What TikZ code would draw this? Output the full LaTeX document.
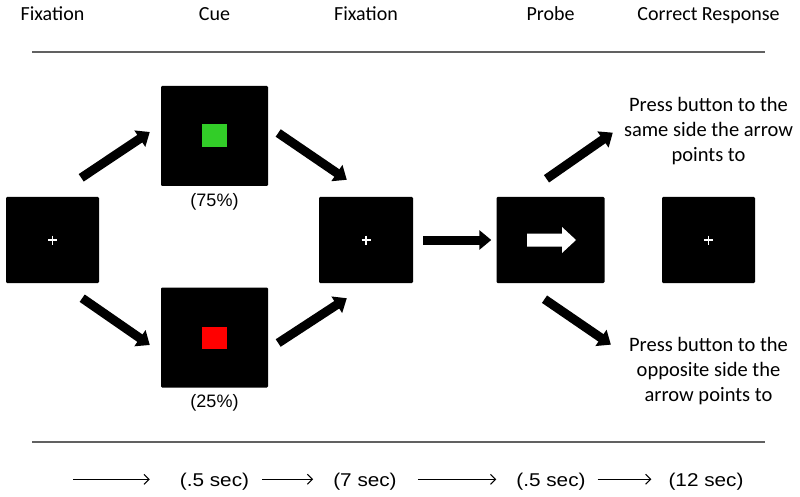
\documentclass[tikz,border=0pt]{standalone}
\usepackage{graphicx}
\usepackage{fontspec}
\setmainfont{Carlito}
\newfontfamily\arialf{Liberation Sans}
\usetikzlibrary{arrows.meta,calc}
\begin{document}
\begin{tikzpicture}[x=1pt,y=-1pt,
  scr/.style={fill=black, inner sep=0pt, rounded corners=1.2pt},
  bigarrow/.style={line width=9pt, -{Triangle[length=12pt,width=19pt]}},
  thinarrow/.style={line width=1.1pt, -{Straight Barb[length=5pt,width=10pt]}},
  hdr/.style={font=\fontsize{20}{24}\selectfont, inner sep=0pt, anchor=base},
  note/.style={font=\fontsize{20.5}{25}\selectfont, inner sep=0pt, anchor=base},
  pct/.style={font=\arialf\fontsize{18}{22}\selectfont, inner sep=0pt, anchor=base},
  dur/.style={font=\arialf\fontsize{18.5}{22}\selectfont, inner sep=0pt, anchor=base},
  hrule/.style={line width=2pt, draw=black!62},
  crossmark/.style={draw=white, line width=1.3pt}
]
\fill[white] (0,0) rectangle (800,497);
\useasboundingbox (0,0) rectangle (800,497);

% headers
\node[hdr] (h1) at (52.5,20.7) {Fixation};
\node[hdr] (h2) at (214.5,20.7) {Cue};
\node[hdr] (h3) at (366,20.7) {Fixation};
\node[hdr] (h4) at (550.5,20.7) {Probe};
\node[hdr] (h5) at (708.5,20.7) {Correct Response};

% rules
\coordinate (r1a) at (32,52);
\coordinate (r1b) at (765,52);
\coordinate (r2a) at (32,441.5);
\coordinate (r2b) at (765,441.5);
\draw[hrule] (r1a) -- (r1b);
\draw[hrule] (r2a) -- (r2b);

% screens
\node[scr, minimum width=93pt, minimum height=86pt] (fix1) at (52.5,240) {};
\node[scr, minimum width=107pt, minimum height=100pt] (cueT) at (214.5,136) {};
\node[scr, minimum width=107pt, minimum height=100pt] (cueB) at (214.5,337.5) {};
\node[scr, minimum width=94pt, minimum height=86pt] (fix2) at (366,240) {};
\node[scr, minimum width=108pt, minimum height=86pt] (probe) at (550.5,240) {};
\node[scr, minimum width=93pt, minimum height=86pt] (corr) at (708.5,240) {};

% fixation crosses
\foreach \n in {fix1,fix2,corr}{
  \draw[crossmark] (\n.center) ++(-4.5,0) -- ++(9,0);
  \draw[crossmark] (\n.center) ++(0,-4.5) -- ++(0,9);
}

% cue squares
\fill[fill={rgb,255:red,50;green,205;blue,40}] ($(cueT.center)+(-12.5,-11.5)$) rectangle ++(25,23);
\fill[red] ($(cueB.center)+(-12.5,-11)$) rectangle ++(25,22);

% probe arrow
\fill[white] ($(probe.center)+(-23.5,-6.5)$) -- ++(35,0) -- ++(0,-6.5) -- ++(14,13)
  -- ++(-14,13) -- ++(0,-6.5) -- ++(-35,0) -- cycle;

% percentages
\node[pct] (p75) at (214.5,207) {(75\%)};
\node[pct] (p25) at (214.5,407) {(25\%)};

% response texts
\node[note] (u1) at (708.5,111.7) {Press button to the};
\node[note] (u2) at (708.5,136.7) {same side the arrow};
\node[note] (u3) at (708.5,161.7) {points to};
\node[note] (l1) at (708.5,351.7) {Press button to the};
\node[note] (l2) at (708.5,376.7) {opposite side the};
\node[note] (l3) at (708.5,401.7) {arrow points to};

% big arrows
\draw[bigarrow] ($(fix1.north east)+(-18,-19)$) -- ($(cueT.west)+(-11,-4)$);
\draw[bigarrow] ($(fix1.south east)+(-17,15)$) -- ($(cueB.west)+(-11,7.5)$);
\draw[bigarrow] ($(cueT.east)+(10,-3)$) -- ($(fix2.north west)+(28,-17)$);
\draw[bigarrow] ($(cueB.east)+(10,5.5)$) -- ($(fix2.south west)+(28,15)$);
\draw[bigarrow] ($(fix2.east)+(10,0)$) -- ($(probe.west)+(-5,0)$);
\draw[bigarrow] ($(probe.north)+(-4,-18)$) -- ($(u2.west)+(-11,3)$);
\draw[bigarrow] ($(probe.south)+(-6,16)$) -- ($(l1.west)+(-18,0)$);

% durations
\node[dur] (t1) at (214.5,486.5) {\scalebox{1.12}[1]{(.5 sec)}};
\node[dur] (t2) at (365,486.5) {\scalebox{1.12}[1]{(7 sec)}};
\node[dur] (t3) at (551,486.5) {\scalebox{1.12}[1]{(.5 sec)}};
\node[dur] (t4) at (706,486.5) {\scalebox{1.12}[1]{(12 sec)}};
\coordinate (s0) at (73,479.3);
\draw[thinarrow, shorten >=30pt] (s0) -- (s0 -| t1.west);
\draw[thinarrow, shorten <=13pt, shorten >=20pt] (t1.east |- s0) -- (t2.west |- s0);
\draw[thinarrow, shorten <=21pt, shorten >=20pt] (t2.east |- s0) -- (t3.west |- s0);
\draw[thinarrow, shorten <=12pt, shorten >=17pt] (t3.east |- s0) -- (t4.west |- s0);
\end{tikzpicture}
\end{document}
